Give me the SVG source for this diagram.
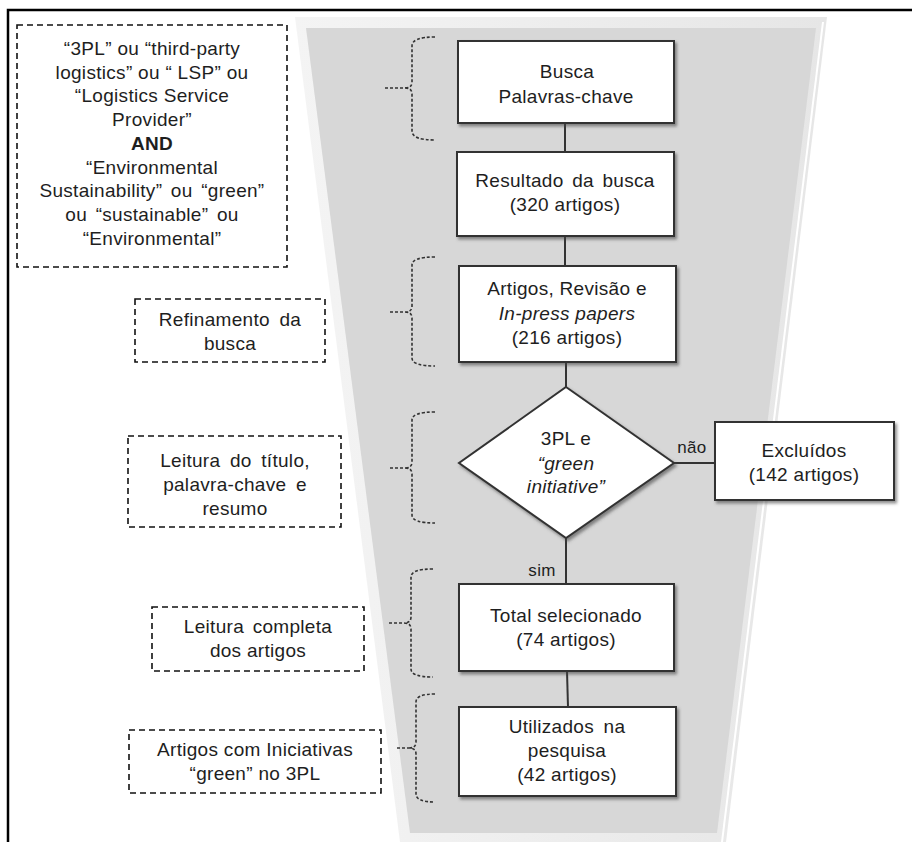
<svg xmlns="http://www.w3.org/2000/svg" width="912" height="842" viewBox="0 0 912 842">
<defs>
<style>
text{font-family:"Liberation Sans",Arial,sans-serif;font-size:19px;fill:#1e1e1e;text-anchor:middle;letter-spacing:0.3px}
.it{font-style:italic}
.b{font-weight:bold}
.node{fill:#fff;stroke:#333;stroke-width:2;filter:url(#sh)}
.dbox{fill:#fff;stroke:#111;stroke-width:1.6;stroke-dasharray:6 4}
.brace{fill:none;stroke:#333;stroke-width:1.6;stroke-dasharray:3 2}
.conn{stroke:#333;stroke-width:2;fill:none}
.lbl{font-size:17px}
</style>
<filter id="sh" x="-10%" y="-10%" width="125%" height="130%">
<feDropShadow dx="2" dy="2.5" stdDeviation="1.5" flood-color="#444" flood-opacity="0.6"/>
</filter>
<linearGradient id="band" x1="0" y1="0" x2="1" y2="0">
<stop offset="0" stop-color="#f4f4f4"/>
<stop offset="1" stop-color="#e6e6e6"/>
</linearGradient>
</defs>
<rect width="912" height="842" fill="#fff"/>
<!-- frame -->
<path d="M8,842 L8,10 L912,10" fill="none" stroke="#000" stroke-width="2.5"/>
<!-- funnel -->
<g id="funnel">
<polygon points="295,17 827,17 726,842 400,842" fill="url(#band)"/>
<polygon points="306,28 816,28 717,833 410,833" fill="#d7d7d7"/>
<line x1="823" y1="22" x2="722" y2="842" stroke="#fff" stroke-width="2"/>
</g>
<!-- connectors -->
<g id="connectors">
<line class="conn" x1="565" y1="123" x2="565" y2="152"/>
<line class="conn" x1="565" y1="236" x2="565" y2="266"/>
<line class="conn" x1="566" y1="362" x2="566" y2="387"/>
<line class="conn" x1="566" y1="538" x2="566" y2="584"/>
<line class="conn" x1="567" y1="671" x2="568" y2="707"/>
<line class="conn" x1="674" y1="463" x2="715" y2="463"/>
<text class="lbl" x="692" y="453">não</text>
<text class="lbl" x="542" y="576">sim</text>
</g>
<!-- braces -->
<g id="braces">
<path class="brace" d="M435,37 Q412,37 412,46 L412,82 Q412,88 405,88 M385,88 L405,88 Q412,88 412,94 L412,131 Q412,140 435,140"/>
<path class="brace" d="M435,257 Q412,257 412,265 L412,306 Q412,312 405,312 M390,312 L405,312 Q412,312 412,318 L412,358 Q412,366 435,366"/>
<path class="brace" d="M435,412 Q412,412 412,420 L412,462 Q412,468 405,468 M390,468 L405,468 Q412,468 412,474 L412,515 Q412,523 435,523"/>
<path class="brace" d="M433,569 Q411,569 411,577 L411,617 Q411,623 404,623 M389,623 L404,623 Q411,623 411,629 L411,669 Q411,677 433,677"/>
<path class="brace" d="M435,694 Q416,694 416,702 L416,742 Q416,748 409,748 M397,748 L409,748 Q416,748 416,754 L416,794 Q416,802 435,802"/>
</g>
<!-- left dashed notes -->
<g id="note-keywords">
<rect class="dbox" x="17" y="25" width="270" height="242"/>
<text x="152" y="55">“3PL” ou “third-party</text>
<text x="152" y="79">logistics” ou “ LSP” ou</text>
<text x="152" y="102">“Logistics Service</text>
<text x="152" y="126">Provider”</text>
<text class="b" x="152" y="150">AND</text>
<text x="152" y="174" word-spacing="2">“Environmental</text>
<text x="152" y="197" word-spacing="3">Sustainability” ou “green”</text>
<text x="152" y="221" word-spacing="3">ou “sustainable” ou</text>
<text x="152" y="245">“Environmental”</text>
</g>
<g id="note-refinamento">
<rect class="dbox" x="135" y="299" width="190" height="63"/>
<text x="230" y="326" word-spacing="4">Refinamento da</text>
<text x="230" y="350">busca</text>
</g>
<g id="note-leitura-titulo">
<rect class="dbox" x="128" y="436" width="213" height="91"/>
<text x="235" y="467" word-spacing="4">Leitura  do título,</text>
<text x="235" y="491" word-spacing="4">palavra-chave e</text>
<text x="235" y="515">resumo</text>
</g>
<g id="note-leitura-completa">
<rect class="dbox" x="152" y="607" width="212" height="64"/>
<text x="258" y="633" word-spacing="3">Leitura completa</text>
<text x="258" y="657">dos artigos</text>
</g>
<g id="note-iniciativas">
<rect class="dbox" x="129" y="730" width="252" height="63"/>
<text x="255" y="756">Artigos com Iniciativas</text>
<text x="255" y="780">“green” no 3PL</text>
</g>
<!-- flow nodes -->
<g id="node-busca">
<rect class="node" x="458" y="41" width="216" height="82"/>
<text x="567" y="78">Busca</text>
<text x="566" y="103">Palavras-chave</text>
</g>
<g id="node-resultado">
<rect class="node" x="457" y="152" width="217" height="84"/>
<text x="565" y="187" word-spacing="3">Resultado da busca</text>
<text x="565" y="211">(320 artigos)</text>
</g>
<g id="node-artigos">
<rect class="node" x="459" y="266" width="217" height="96"/>
<text x="567" y="295">Artigos, Revisão e</text>
<text class="it" x="567" y="320">In-press papers</text>
<text x="567" y="344">(216 artigos)</text>
</g>
<g id="node-decisao">
<polygon class="node" points="566,387 674,463 566,538 459,463"/>
<text x="566" y="445">3PL e</text>
<text class="it" x="566" y="470">“green</text>
<text class="it" x="566" y="493">initiative”</text>
</g>
<g id="node-excluidos">
<rect class="node" x="715" y="422" width="179" height="78"/>
<text x="804" y="457">Excluídos</text>
<text x="804" y="481">(142 artigos)</text>
</g>
<g id="node-total">
<rect class="node" x="459" y="584" width="215" height="87"/>
<text x="566" y="622">Total selecionado</text>
<text x="566" y="646">(74 artigos)</text>
</g>
<g id="node-utilizados">
<rect class="node" x="459" y="707" width="217" height="89"/>
<text x="567" y="733" word-spacing="4">Utilizados na</text>
<text x="567" y="757">pesquisa</text>
<text x="567" y="781">(42 artigos)</text>
</g>
</svg>
